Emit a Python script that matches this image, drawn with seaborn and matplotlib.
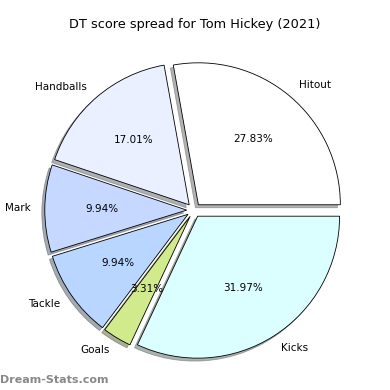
import matplotlib
matplotlib.use("Agg")
import matplotlib.pyplot as plt
import seaborn as sns

sns.set_style("white")

categories = ["Hitout", "Handballs", "Mark", "Tackle", "Goals", "Kicks"]
shares = [27.83, 17.01, 9.94, 9.94, 3.31, 31.97]
colours = ["#ffffff", "#eaf0ff", "#c6d8ff", "#b8d6ff", "#d0ea8c", "#dbffff"]

fig = plt.figure(figsize=(3.9, 3.9), dpi=100)
ax = fig.add_axes([0.042, 0.006, 0.91, 0.91])
ax.pie(shares, labels=categories, colors=colours, autopct="%1.2f%%",
       explode=[0.05] * len(shares),
       shadow={"ox": -0.015, "oy": -0.015, "shade": 0.6}, startangle=0,
       wedgeprops={"edgecolor": "black", "linewidth": 0.6},
       textprops={"fontsize": 7.5, "color": "black"})
ax.set_xlim(-1.25, 1.25)
ax.set_ylim(-1.25, 1.25)
ax.set_aspect("equal")
fig.text(0.5, 0.936, "DT score spread for Tom Hickey (2021)", fontsize=9.3,
         color="black", ha="center", va="center")
fig.text(0.0, 0.026, "Dream-Stats.com", fontsize=8, color="#888888",
         fontweight="bold", ha="left", va="center")
fig.savefig("out.png", dpi=100)
